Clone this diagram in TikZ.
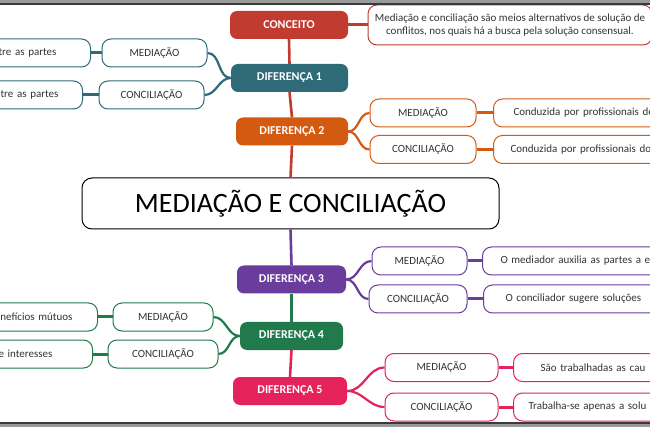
\documentclass[tikz,border=0pt]{standalone}
\usepackage{fontspec}
\setmainfont{Carlito}
\begin{document}
\begin{tikzpicture}[x=1pt,y=-1pt,
  font=\fontsize{11}{13.5}\selectfont,
  dif/.style={fill=#1, rounded corners=7pt, minimum height=28pt, inner sep=0pt, text=white, font=\fontsize{12}{14}\selectfont\bfseries},
  sub/.style={draw=#1, fill=white, rounded corners=9pt, line width=1pt, minimum height=28pt, inner ysep=0pt, text=txt},
  leafR/.style 2 args={draw=#1, fill=white, rounded corners=9pt, line width=1pt, minimum height=28pt, inner ysep=0pt, inner xsep=#2, text width=200pt, align=left, anchor=west, text=txt},
  leafL/.style 2 args={draw=#1, fill=white, rounded corners=9pt, line width=1pt, minimum height=28pt, inner ysep=0pt, inner xsep=#2, text width=200pt, align=right, anchor=east, text=txt},
  branch/.style={draw=#1, line width=2.2pt},
  stub/.style={draw=#1, line width=3pt},
  trunk/.style={draw=#1, line width=2.6pt}
]
\definecolor{cRed}{HTML}{C23B30}
\definecolor{cTeal}{HTML}{2E6A78}
\definecolor{cOrange}{HTML}{D45A12}
\definecolor{cPurple}{HTML}{6A3C9C}
\definecolor{cGreen}{HTML}{217A4B}
\definecolor{cPink}{HTML}{E5235A}
\definecolor{txt}{HTML}{333333}
\definecolor{frameDark}{HTML}{3A3A3A}
\definecolor{frameLight}{HTML}{9A9A9A}
\useasboundingbox (0,0) rectangle (650,427);
\clip (0,0) rectangle (650,427);
\fill[white] (0,0) rectangle (650,427);

% main spine nodes
\node[dif=cRed, minimum width=118pt] (conc) at (289,25) {CONCEITO};
\node[dif=cTeal, minimum width=117pt] (d1) at (289.5,78) {DIFERENÇA 1};
\node[dif=cOrange, minimum width=112pt] (d2) at (292,131.5) {DIFERENÇA 2};
\node[draw=black, fill=white, rounded corners=10pt, line width=1pt, minimum width=417pt, minimum height=51pt, inner sep=0pt, font=\fontsize{28}{30}\selectfont, text=black] (main) at (290.5,203.5) {MEDIAÇÃO E CONCILIAÇÃO};
\node[dif=cPurple, minimum width=109pt] (d3) at (291.5,279.5) {DIFERENÇA 3};
\node[dif=cGreen, minimum width=103pt] (d4) at (291.5,336) {DIFERENÇA 4};
\node[dif=cPink, minimum width=114pt] (d5) at (290,391) {DIFERENÇA 5};

% concept text
\node[draw=cRed, fill=white, rounded corners=9pt, line width=1pt, minimum width=284pt, minimum height=40pt, inner sep=0pt, align=center, text=txt] (ctext) at (510,25) {Mediação e conciliação são meios alternativos de solução de\\conflitos, nos quais há a busca pela solução consensual.};

% diferença 1 (left)
\node[sub=cTeal, minimum width=105pt] (m1) at (154.5,53) {MEDIAÇÃO};
\node[sub=cTeal, minimum width=105pt] (c1) at (151.5,95) {CONCILIAÇÃO};
\node[leafL={cTeal}{34pt}] (lm1) at (91,53) {tre as partes};
\node[leafL={cTeal}{24pt}] (lc1) at (83,95) {tre as partes};

% diferença 2 (right)
\node[sub=cOrange, minimum width=106pt] (m2) at (423,113) {MEDIAÇÃO};
\node[sub=cOrange, minimum width=106pt] (c2) at (423,149.5) {CONCILIAÇÃO};
\node[leafR={cOrange}{20pt}] (rm2) at (493,113) {Conduzida por profissionais de};
\node[leafR={cOrange}{17pt}] (rc2) at (493,149.5) {Conduzida por profissionais do};

% diferença 3 (right)
\node[sub=cPurple, minimum width=95pt] (m3) at (419.5,261) {MEDIAÇÃO};
\node[sub=cPurple, minimum width=98pt] (c3) at (418,299) {CONCILIAÇÃO};
\node[leafR={cPurple}{18pt}] (rm3) at (482,261) {O mediador auxilia as partes a e};
\node[leafR={cPurple}{22pt}] (rc3) at (483,299) {O conciliador sugere soluções};

% diferença 4 (left)
\node[sub=cGreen, minimum width=100pt] (m4) at (163,317) {MEDIAÇÃO};
\node[sub=cGreen, minimum width=110pt] (c4) at (163,354) {CONCILIAÇÃO};
\node[leafL={cGreen}{25pt}] (lm4) at (98,317) {nefícios mútuos};
\node[leafL={cGreen}{40pt}] (lc4) at (93,354) {e interesses};

% diferença 5 (right)
\node[sub=cPink, minimum width=113pt] (m5) at (441.5,367.5) {MEDIAÇÃO};
\node[sub=cPink, minimum width=113pt] (c5) at (441.5,407) {CONCILIAÇÃO};
\node[leafR={cPink}{27pt}] (rm5) at (513,367.5) {São trabalhadas as cau};
\node[leafR={cPink}{15pt}] (rc5) at (513,407) {Trabalha-se apenas a solu};

% trunk
\draw[trunk=cRed] (conc.south) -- (d1.north);
\draw[trunk=cRed] (d1.south) -- (d2.north);
\draw[trunk=cRed] (d2.south) -- (main.north);
\draw[trunk=cPurple] (main.south) -- (d3.north);
\draw[trunk=cGreen] (d3.south) -- (d4.north);
\draw[trunk=cPink] (d4.south) -- (d5.north);

% branches
\draw[stub=cRed] (conc.east) -- (ctext.west);
\draw[branch=cTeal] (d1.west) to[out=180,in=0] (m1.east);
\draw[branch=cTeal] (d1.west) to[out=180,in=0] (c1.east);
\draw[stub=cTeal] (m1.west) -- (lm1.east);
\draw[stub=cTeal] (c1.west) -- (lc1.east);
\draw[branch=cOrange] (d2.east) to[out=0,in=180] (m2.west);
\draw[branch=cOrange] (d2.east) to[out=0,in=180] (c2.west);
\draw[stub=cOrange] (m2.east) -- (rm2.west);
\draw[stub=cOrange] (c2.east) -- (rc2.west);
\draw[branch=cPurple] (d3.east) to[out=0,in=180] (m3.west);
\draw[branch=cPurple] (d3.east) to[out=0,in=180] (c3.west);
\draw[stub=cPurple] (m3.east) -- (rm3.west);
\draw[stub=cPurple] (c3.east) -- (rc3.west);
\draw[branch=cGreen] (d4.west) to[out=180,in=0] (m4.east);
\draw[branch=cGreen] (d4.west) to[out=180,in=0] (c4.east);
\draw[stub=cGreen] (m4.west) -- (lm4.east);
\draw[stub=cGreen] (c4.west) -- (lc4.east);
\draw[branch=cPink] (d5.east) to[out=0,in=180] (m5.west);
\draw[branch=cPink] (d5.east) to[out=0,in=180] (c5.west);
\draw[stub=cPink] (m5.east) -- (rm5.west);
\draw[stub=cPink] (c5.east) -- (rc5.west);

% frame bands
\fill[frameLight] (0,0) rectangle (650,2.6);
\fill[frameDark] (0,2.6) rectangle (650,4.6);
\fill[frameDark] (0,421.6) rectangle (650,423.5);
\fill[frameLight] (0,423.5) rectangle (650,427);
\end{tikzpicture}
\end{document}
